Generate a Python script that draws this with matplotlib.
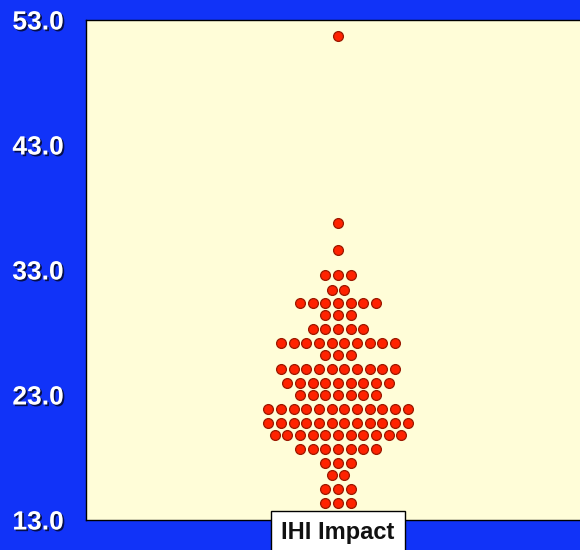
import matplotlib.pyplot as plt
import matplotlib.patheffects as pe
import numpy as np

plt.rcParams['font.family'] = ['Liberation Sans', 'DejaVu Sans']

# binned values (row centres) and how many points fall in each row
row_values = [51.7, 36.8, 34.6, 32.6, 31.4, 30.4, 29.4, 28.3, 27.2, 26.2, 25.1,
              24.0, 23.0, 21.9, 20.8, 19.8, 18.7, 17.6, 16.6, 15.5, 14.4]
row_counts = [1, 1, 1, 3, 2, 7, 3, 5, 10, 3, 10,
              9, 7, 12, 12, 11, 7, 3, 2, 3, 3]
y_ticks = [13.0, 23.0, 33.0, 43.0, 53.0]
group_label = 'IHI Impact'

bg = '#1133F8'
face = '#FFFDD8'

fig = plt.figure(figsize=(5.8, 5.5), dpi=100, facecolor=bg)
ax = fig.add_axes([86 / 580, 30 / 550, 504 / 580, 500 / 550])
ax.set_facecolor(face)

# spread each row sideways so the dots sit next to each other
step = 0.0251
xs, ys = [], []
for v, n in zip(row_values, row_counts):
    off = (np.arange(n) - (n - 1) / 2) * step
    xs.extend(off)
    ys.extend([v] * n)

ax.scatter(xs, ys, s=50, c='#FF2200', edgecolors='#9A1800', linewidths=0.9, zorder=3)

ax.set_xlim(-0.5, 0.5)
ax.set_ylim(13, 53)
ax.set_xticks([])
ax.set_yticks(y_ticks)
ax.set_yticklabels(['%.1f' % t for t in y_ticks])
ax.tick_params(axis='y', length=0, pad=16, labelsize=19, labelcolor='white')
shadow = [pe.withSimplePatchShadow(offset=(1.2, -1.2), shadow_rgbFace='black', alpha=0.7)]
for lab in ax.get_yticklabels():
    lab.set_fontweight('bold')
    lab.set_path_effects(shadow)

for sp in ax.spines.values():
    sp.set_color('black')
    sp.set_linewidth(1)

ax.text(0, -0.025, group_label, transform=ax.get_xaxis_transform(),
        ha='center', va='center', fontsize=17, fontweight='bold', color='#111111',
        bbox=dict(boxstyle='square,pad=0.42', facecolor='white', edgecolor='black', linewidth=1),
        clip_on=False, zorder=5)

fig.savefig('out.png', dpi=100, facecolor=bg)
